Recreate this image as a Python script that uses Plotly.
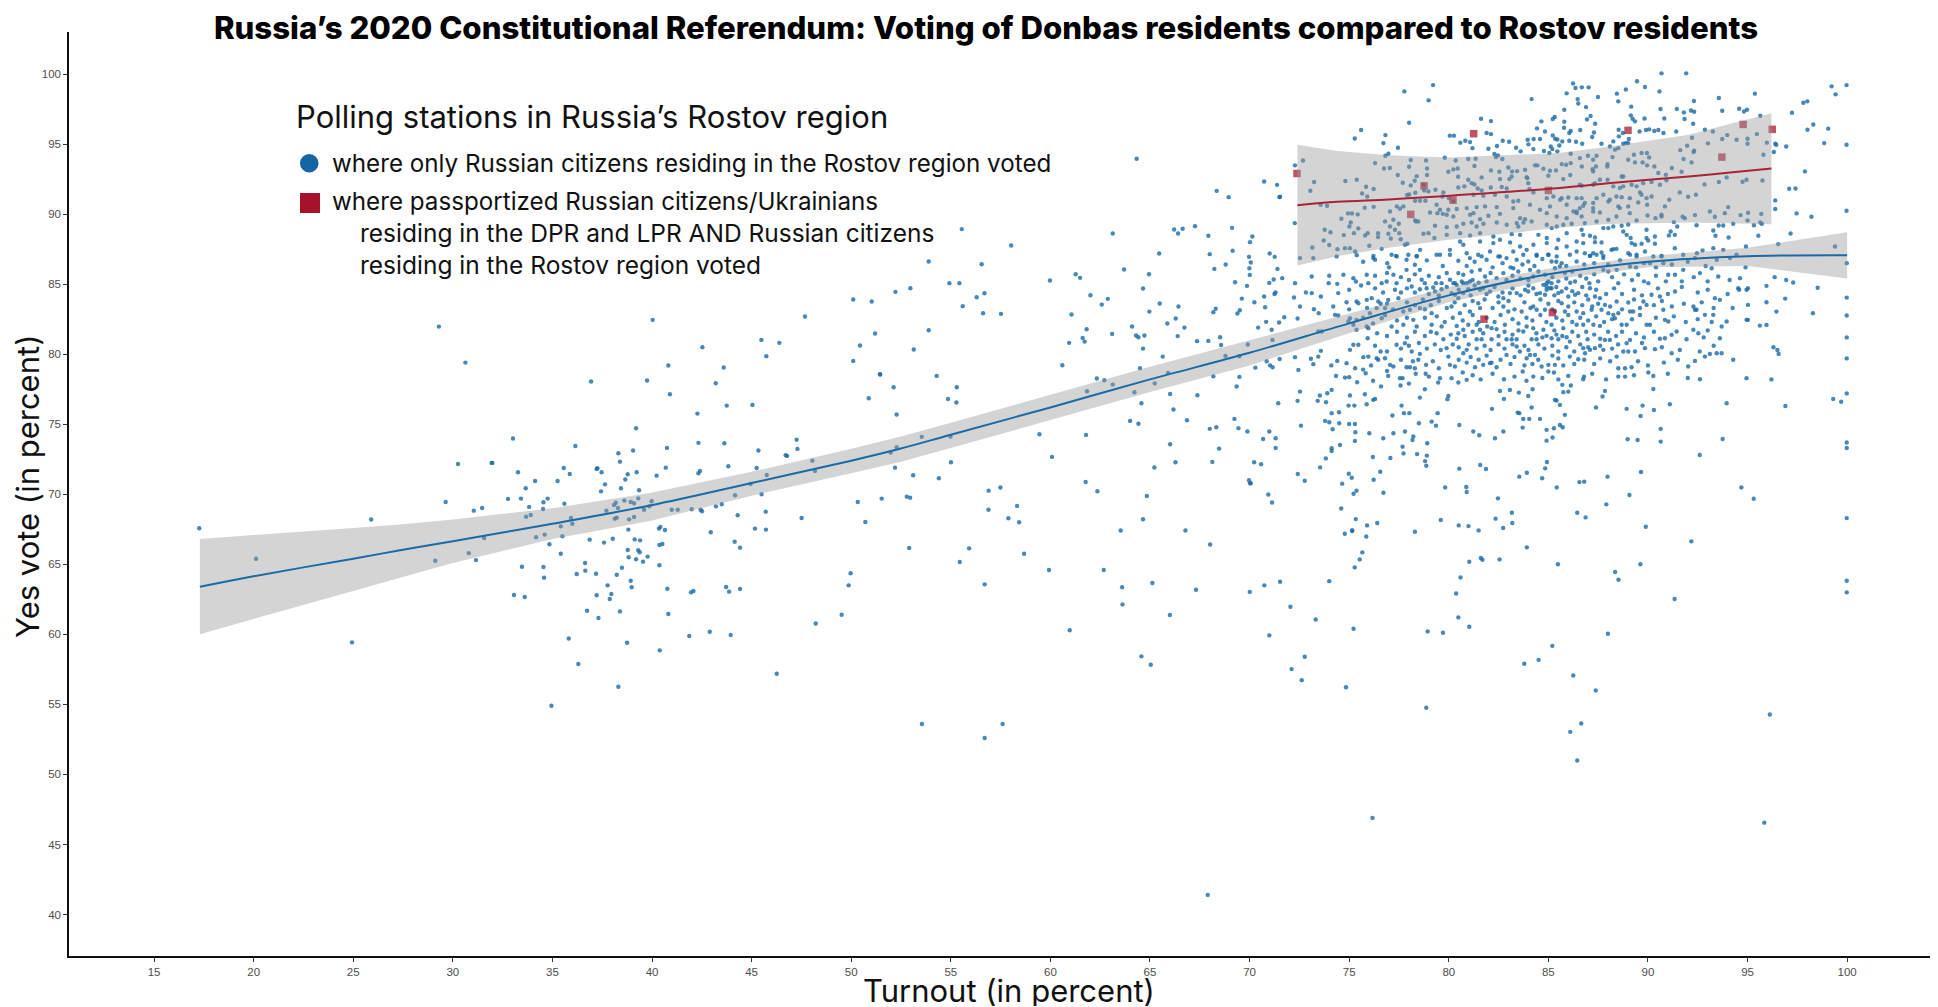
import plotly.graph_objects as go

W, H = 1938, 1007
L, R, T, B = 69, 1930, 32, 956

left_stations = [(17.27,67.57),(20.12,65.4),(25.9,68.2),(24.94,59.43),(29.3,81.97),(30.63,79.4),(30.26,72.16),(29.64,69.45),(31.05,68.83),(29.12,65.26),(30.8,65.8),(31.16,65.3),
(40.03,82.45),(47.68,82.69),(50.1,83.9),(51.03,83.76),(51.2,81.48),(50.44,80.62),(50.1,79.52),(51.45,78.55),(52.13,77.64),(50.88,76.86),(52.28,75.69),(42.53,80.5),(40.82,79.19),(43.6,79.05),(45.49,81.02),(46.39,80.81),(45.74,79.86),(36.94,78.05),(39.75,78.12),(43.2,77.93),(40.9,77.14),(43.75,76.33),(45.04,76.38),(42.28,75.76),(39.2,74.71),(33.02,73.98),(47.26,73.9),(47.3,73.24),(36.15,73.45),(42.33,73.67),(43.63,73.64),(40.75,73.31),(39.05,73.12),(45.34,73.12),(38.31,72.93),(38.39,72.33),(46.71,72.79),(46.78,72.74),(31.95,72.24),(31.98,72.24),(40.69,71.9),(43.83,72.0),(37.26,71.86),(37.22,71.81),(35.57,71.88),(45.25,71.88),(33.27,71.57),(37.47,71.57),(39.23,71.57),(35.87,71.45),(38.78,71.43),(42.41,71.67),(42.33,71.5),(40.23,71.33),(38.66,71.05),(34.13,70.95),(35.26,70.95),(37.64,70.71),(33.66,70.43),(38.44,70.43),(39.35,70.29),(37.44,70.21),(32.77,69.67),(33.42,69.69),(34.76,69.69),(34.55,69.43),(35.6,69.33),(39.31,69.71),(38.61,69.55),(38.93,69.45),(39.1,69.36),(39.98,69.5),(38.18,69.4),(38.09,69.24),(39.87,69.14),(38.29,69.02),(33.83,69.1),(31.47,69.02),(34.53,68.95),(37.71,68.83),(39.6,68.9),(40.99,68.9),(41.29,68.9),(41.99,68.93),(42.44,68.9),(42.51,68.79),(43.21,69.14),(43.5,69.29),(33.68,68.4),(33.91,68.52),(35.93,68.31),(38.13,68.26),(38.23,68.33),(38.85,68.21),(39.1,68.38),(44.3,68.5),(45.71,68.76),(36.0,67.9),(35.42,67.71),(47.51,68.31),(38.81,67.48),(40.35,67.55),(40.42,67.67),(40.65,67.45),(45.17,67.55),(45.72,67.48),(42.95,67.29),(34.18,66.93),(34.61,67.12),(35.5,67.0),(31.57,66.88),(36.87,66.76),(38.03,66.83),(37.59,66.55),(39.13,66.78),(39.4,66.71),(44.15,66.62),(40.37,66.38),(40.52,66.45),(34.85,66.43),(44.42,66.19),(38.78,66.02),(39.31,66.0),(39.38,65.86),(35.42,65.76),(38.83,65.5),(39.78,65.55),(39.2,65.36),(39.55,65.19),(40.37,64.93),(38.49,64.76),(33.47,64.83),(34.55,64.81),(34.58,64.05),(36.64,65.09),(36.65,64.55),(36.22,64.31),(37.19,64.33),(38.23,64.26),(38.93,63.83),(38.98,63.36),(37.77,63.5),(37.22,62.79),(37.96,62.88),(37.88,62.52),(33.07,62.81),(33.61,62.67),(40.77,63.26),(41.96,63.0),(42.08,63.1),(43.72,63.38),(43.87,63.05),(44.42,63.24),(36.74,61.69),(37.31,61.17),(38.39,61.64),(40.82,61.45),(48.22,60.78),(49.52,61.4),(49.97,64.36),(49.87,63.5),(50.33,69.45),(50.71,68.02),(51.53,69.69),(52.2,71.9),(51.98,72.98),(52.28,73.36),(48.05,72.4),(48.18,71.67),(45.76,71.38),(44.95,70.74),(44.17,69.93),(45.5,70.0),(35.82,59.71),(38.75,59.4),(40.39,58.86),(41.87,59.88),(42.9,60.19),(43.95,59.95),(36.3,57.88),(38.31,56.26),(46.26,57.19),(34.95,54.9)]

middle_stations = [(64.33,93.95),(70.73,92.33),(71.38,92.09),(68.35,91.66),(68.95,91.21),(71.5,91.21),(55.55,88.93),(58.03,87.76),(63.13,88.62),(66.21,88.9),(66.41,88.62),(66.64,88.95),(67.26,89.14),(69.12,89.02),(67.93,88.45),(70.14,88.4),(70.02,88.0),(53.89,86.62),(56.55,86.42),(65.46,87.19),(68.0,87.14),(69.15,87.38),(71.01,87.19),(71.26,86.95),(69.97,86.95),(70.06,86.55),(69.99,86.14),(70.01,85.66),(68.8,86.4),(68.23,86.09),(71.4,86.09),(63.7,86.05),(64.95,85.71),(61.27,85.71),(61.49,85.45),(59.98,85.26),(54.93,85.07),(55.43,85.07),(52.97,84.71),(52.22,84.45),(56.3,84.07),(56.69,84.35),(55.6,83.43),(56.62,82.92),(57.52,82.88),(69.27,85.14),(70.99,85.09),(71.21,85.33),(64.65,84.69),(69.87,84.88),(71.3,84.4),(71.25,84.3),(62.01,84.21),(62.88,83.95),(62.58,83.54),(69.61,83.97),(70.73,84.12),(65.49,83.62),(66.43,83.4),(70.24,83.71),(70.78,83.35),(68.3,83.24),(68.18,83.0),(69.51,83.14),(69.39,82.9),(64.97,83.04),(61.06,82.83),(66.29,82.55),(65.87,82.19),(70.83,82.31),(71.48,82.26),(64.1,81.98),(63.1,81.45),(66.73,81.9),(70.43,81.9),(71.11,81.74),(61.82,81.78),(53.89,81.71),(61.62,81.16),(61.72,80.9),(60.94,80.81),(64.3,81.33),(64.42,81.21),(64.72,81.33),(66.39,81.29),(67.36,80.93),(67.93,80.95),(68.52,81.21),(68.57,80.66),(64.65,80.4),(69.91,80.69),(71.15,81.02),(53.14,80.33),(65.64,79.83),(68.79,79.88),(69.49,79.85),(60.6,79.21),(64.5,79.0),(65.91,78.66),(70.86,79.5),(71.03,79.2),(71.16,79.07),(70.29,79.04),(71.51,79.66),(68.18,78.42),(69.49,78.38),(62.33,78.26),(62.71,78.14),(63.13,77.83),(65.24,77.92),(61.84,77.35),(64.22,77.28),(66.01,77.16),(67.38,77.07),(69.35,77.69),(54.29,78.45),(51.45,78.57),(55.3,77.64),(54.86,76.8),
(64.57,76.5),(66.18,76.05),(66.86,75.29),(69.24,75.38),(69.44,74.72),(69.89,74.48),(68.0,74.67),(68.33,74.79),(64.0,75.24),(64.42,75.03),(70.99,74.48),(71.31,74.0),(71.31,73.31),(70.68,73.95),(55.28,76.55),(53.54,74.1),(54.98,74.12),(59.45,74.29),(61.79,74.24),(66.01,73.57),(68.47,73.26),(60.08,72.67),(55.01,72.29),(66.28,72.29),(68.13,72.31),(70.23,72.29),(70.58,72.14),(65.22,71.91),(53.11,71.36),(54.4,71.14),(69.97,71.0),(70.06,70.79),(61.77,70.88),(62.36,70.22),(56.9,70.26),(57.49,70.48),(64.84,69.88),(70.94,69.98),(71.13,69.41),(52.79,69.83),(52.96,69.76),(56.89,68.9),(57.89,68.29),(58.33,69.17),(58.43,68.0),(64.65,68.22),(63.53,67.41),(66.78,67.41),(68.02,66.41),(52.91,66.17),(55.92,66.14),(58.68,65.76),(55.45,65.17),(59.93,64.6),(62.68,64.6),(56.7,63.57),(63.6,63.36),(65.12,63.67),(67.31,63.19),(70.01,63.03),(70.74,63.5),(71.53,63.76),(63.62,62.14),(66.0,61.38),(60.97,60.29),(70.99,59.93),(64.57,58.43),(65.04,57.83),(53.55,53.6),(56.7,52.6),(57.6,53.6),(67.9,41.4)]

low_stations = [(73.83,72.56),(74.12,73.09),(73.54,71.92),(72.42,71.45),(72.77,70.97),(70.02,70.78),(76.19,72.66),(77.07,72.59),(77.73,72.92),(78.41,72.87),(78.9,72.76),(78.81,72.37),(78.87,72.04),(76.56,71.61),(74.98,71.47),(75.13,71.18),(74.65,70.76),(76.23,71.04),(75.37,70.26),(75.22,70.04),(76.72,70.11),(74.6,68.99),(75.33,68.23),(75.9,67.78),(76.41,67.95),(74.78,67.18),(75.15,67.37),(75.15,67.44),(75.86,66.99),(78.3,67.33),(80.53,71.83),(79.82,70.49),(80.88,70.52),(80.9,70.16),(81.58,72.09),(81.87,71.8),(83.54,71.26),(83.92,71.54),(84.69,71.14),(84.84,71.85),(84.93,72.3),(85.42,70.49),(82.47,69.71),(86.56,70.87),(86.8,70.9),(87.97,71.26),(89.65,71.59),(89.07,69.95),(87.91,69.28),(86.45,68.68),(86.87,68.35),(83.17,68.68),(82.35,68.26),(83.19,67.95),(82.73,67.59),(79.6,68.16),(80.5,67.78),(80.99,67.73),(81.5,67.42),(89.89,67.68),(92.18,66.64),(92.6,72.8),(94.69,70.49),(95.31,69.68),(99.98,68.3),(99.98,63.83),(99.98,63.0),(91.34,62.52),(83.92,66.21),(85.48,65.0),(89.62,65.0),(88.35,64.45),(88.52,63.9),(81.03,65.18),(81.61,65.45),(81.69,65.33),(82.55,65.35),(75.66,65.85),(75.53,65.35),(75.28,64.78),(80.59,64.06),(80.37,62.92),(80.48,61.21),(81.03,60.54),(74.0,63.8),(72.05,61.97),(73.32,61.06),(75.22,60.4),(78.94,60.21),(79.71,60.11),(87.99,60.04),(85.2,59.18),(83.79,57.9),(84.51,58.18),(86.25,57.06),(87.38,56.0),(72.77,58.4),(72.11,57.52),(72.62,56.73),(74.84,56.23),(78.87,54.76),(96.12,54.28),(86.65,53.64),(86.1,53.04),(86.45,51.0),(76.17,46.9),(95.84,46.56)]

upper_left_stations = [(79.21,99.21),(77.77,98.76),(78.99,98.12),(78.01,96.52),(75.6,96.0),(75.28,95.4),(76.82,95.64),(76.72,95.07),(77.45,94.74),(76.97,94.31),(76.82,94.17),(80.05,95.6),(80.26,95.6),(81.62,96.81),(82.12,96.64),(81.9,95.79),(82.12,95.71),(80.58,95.1),(80.83,95.24),(81.07,95.14),(81.19,94.71),(81.99,94.67),(82.42,94.86),(82.29,94.29),(82.47,94.19),(82.71,95.24),(83.03,95.17),(83.38,94.74),(83.61,94.48),(84.16,98.21),(85.8,97.45),(86.24,99.33),(86.36,99.0),(85.92,98.62),(86.47,98.21),(86.5,97.9),(84.65,96.62),(85.22,96.79),(85.32,96.93),(85.8,96.6),(85.79,96.17),(84.43,96.12),(84.83,95.9),(86.12,95.93),(86.05,95.79),(83.96,95.31),(84.26,95.36),(84.58,95.36),(85.22,95.62),(85.34,95.38),(85.45,95.33),(85.7,95.19),(86.05,95.24),(86.39,95.17),(84.0,94.98),(84.25,94.64),(84.78,94.5),(85.12,94.83),(85.2,94.64),(85.05,94.36),(85.55,94.9),(85.45,94.48),(86.12,94.31),(79.8,94.02),(78.86,93.83),(78.09,93.86),(80.35,93.83),(80.98,93.93),(81.35,93.95),(82.37,94.07),(82.69,93.93),(76.3,93.64),(72.68,93.83),(72.28,93.48),(76.75,93.26),(77.04,93.29),(78.01,93.38),(78.91,93.26),(79.98,93.02),(80.23,93.19),(80.45,93.26),(81.29,93.43),(82.12,93.12),(77.44,92.79),(78.39,92.71),(78.91,92.79),(80.47,92.67),(81.65,92.62),(82.54,93.02),(82.57,92.5),(82.99,93.33),(83.18,93.05),(83.43,93.07),(83.83,93.17),(83.16,92.69),(83.04,92.5),(83.95,92.57),(84.33,93.48),(84.45,93.48),(84.75,93.24),(73.24,92.29),(74.81,92.36),(75.38,92.45),(77.69,92.24),(78.09,92.05),(78.29,92.38),(78.74,92.1),(80.98,92.45),(81.29,92.12),(81.15,92.21),(75.85,91.95),(76.23,91.79),(73.05,91.67),(75.65,91.48),(75.91,91.26),(78.32,91.52),(77.91,91.36),(78.02,91.4),(71.53,91.24),(80.48,91.9),(80.78,91.98),(81.45,91.83),(81.65,91.69),(82.11,91.9),(82.66,91.93),(82.91,91.83),(83.99,92.21),(83.91,92.64),(84.05,91.79),(84.25,91.55),(85.08,93.1),(85.38,93.12),(85.0,92.74),(85.75,92.5),(86.1,92.79),(85.67,93.57),(85.89,93.52),(86.12,93.64),(79.73,91.55),(79.33,91.74),(78.98,91.62),(78.76,91.69),(84.92,91.14),(85.25,91.26),(85.67,91.14),(86.0,91.19),(86.42,91.14),(82.91,91.26),(82.32,91.38),(81.74,91.31),(81.24,91.38),(73.57,90.67),(73.89,90.6),(75.78,90.45),(76.23,90.52),(77.39,90.55),(77.55,90.38),(78.31,90.95),(78.56,90.95),(78.83,90.95),(79.68,91.26),(80.01,91.14),(80.23,90.9),(77.05,90.19),(77.72,90.55),(79.39,90.67),(79.56,90.31),(79.98,90.31),(80.4,90.36),(80.9,90.43),(81.4,90.5),(81.82,90.55),(82.41,90.5),(83.24,90.9),(83.49,90.95),(83.24,90.43),(84.08,90.67),(84.58,90.31),(85.08,90.55),(85.59,91.02),(85.92,90.67),(86.26,90.19),(74.94,90.05),(75.14,90.05),(75.43,89.98),(74.61,89.67),(75.08,89.4),(75.01,89.12),(76.8,89.48),(77.22,89.6),(77.49,89.31),(78.31,89.55),(78.47,89.48),(79.06,90.12),(79.43,90.07),(79.9,89.95),(80.23,89.83),(79.7,90.02),(81.24,90.07),(81.07,89.95),(81.99,89.88),(81.57,89.64),(82.57,90.02),(83.58,89.71),(83.83,89.64),(84.16,89.48),(84.92,90.07),(85.42,89.83),(85.92,89.71),(86.42,90.07),(72.27,89.36),(73.77,88.88),(74.06,88.71),(74.73,88.5),(75.24,88.64),(75.46,88.98),(75.93,88.64),(75.8,88.48),(76.45,88.64),(76.45,88.36),(76.97,88.6),(77.05,89.12),(77.3,88.88),(77.52,88.64),(77.09,88.26),(77.59,88.21),(78.36,89.48),(78.73,88.6),(78.98,88.64),(79.31,89.17),(79.9,89.07),(80.4,89.12),(80.73,89.31),(81.15,89.4),(81.4,89.12),(81.74,89.31),(82.41,89.4),(82.91,89.24),(83.49,89.12),(83.41,89.36),(83.75,89.4),(84.92,89.24),(85.17,89.0),(85.42,89.12),(85.75,89.24),(86.17,89.31),(73.72,88.12),(74.0,87.79),(73.15,87.62),(73.2,86.86),(74.41,87.5),(74.79,87.57),(75.04,87.57),(75.3,87.33),(76.01,87.74),(76.63,87.52),(77.8,87.81),(77.92,87.88),(78.56,87.45),(79.28,88.29),(79.9,88.52),(80.57,88.64),(81.07,88.48),(81.57,88.64),(82.24,88.4),(83.16,88.57),(83.58,88.52),(84.5,88.52),(84.92,88.29),(85.5,88.17),(85.92,88.64),(86.42,88.05),(80.57,88.05),(80.73,87.81),(81.57,88.05),(82.24,87.93),(82.57,88.17),(83.08,87.98),(83.58,87.69),(84.25,87.81),(84.92,87.93),(85.42,87.57),(85.92,87.69),(86.42,87.33),(79.56,87.1),(80.06,87.45),(80.9,87.21),(81.65,86.98),(82.07,87.33),(82.57,86.98),(83.24,87.33),(83.91,87.45),(84.41,87.1),(85.0,87.1),(85.42,86.98),(78.39,86.98),(77.97,87.1),(77.39,86.98),(76.22,87.02),(75.38,87.07),(72.53,86.86)]

upper_right_stations = [(90.68,100.05),(91.92,100.05),(89.45,99.48),(89.85,99.07),(90.58,98.76),(86.68,99.05),(87.02,99.05),(87.49,98.36),(88.44,98.6),(88.89,98.9),(88.51,98.05),(89.16,97.67),(89.14,97.05),(89.23,96.81),(89.35,96.62),(86.89,97.64),(87.12,97.0),(86.94,96.76),(87.35,96.45),(86.6,96.0),(87.29,95.83),(87.2,95.5),(88.53,96.02),(88.74,95.79),(88.54,95.55),(89.04,95.36),(88.89,95.07),(88.76,95.02),(89.01,95.07),(88.26,95.19),(87.67,95.02),(86.7,95.02),(90.63,97.5),(91.45,97.5),(91.8,97.26),(92.16,97.4),(92.32,97.31),(92.31,98.07),(89.83,96.83),(90.82,96.83),(91.84,96.79),(92.27,96.45),(89.58,95.9),(89.9,96.0),(90.06,96.05),(90.32,95.93),(90.52,96.0),(90.78,95.79),(91.42,95.9),(93.56,98.29),(95.37,98.6),(93.73,97.38),(94.58,97.52),(94.82,97.33),(94.97,97.45),(95.64,97.02),(92.86,96.02),(93.26,95.9),(93.98,95.64),(93.73,95.36),(93.01,95.05),(92.21,95.45),(91.97,94.88),(91.62,94.57),(92.32,94.52),(92.29,94.43),(91.79,93.93),(92.19,93.69),(94.45,95.31),(95.0,95.38),(95.0,95.02),(95.47,95.71),(95.97,95.1),(95.8,94.24),(96.39,95.02),(96.44,94.95),(96.32,94.43),(96.94,94.83),(97.23,97.24),(97.8,97.95),(98.0,98.05),(98.3,96.4),(98.01,96.02),(99.05,96.1),(99.22,99.12),(99.42,98.55),(99.97,99.21),(98.85,95.07),(99.97,94.95),(97.88,93.05),(97.09,91.81),(97.41,91.83),(96.39,90.98),(96.39,90.36),(97.46,90.05),(98.21,89.81),(99.97,90.24),(97.16,88.62),(99.39,87.69),(96.54,87.86),(94.92,87.69),(93.78,87.45),(93.28,87.57),(92.74,87.4),(92.46,87.21),(93.56,92.29),(92.84,92.12),(91.6,91.55),(92.02,91.24),(92.41,91.38),(91.07,91.02),(94.75,92.31),(94.95,92.45),(95.75,92.4),(93.95,92.62),(89.95,94.36),(89.68,94.36),(89.3,94.24),(89.01,93.88),(89.35,93.69),(89.73,93.69),(90.06,94.05),(89.96,93.48),(90.32,93.4),(91.2,93.29),(91.69,93.02),(90.52,92.93),(90.9,92.81),(88.76,92.69),(88.68,92.69),(87.97,93.57),(87.96,93.4),(88.22,94.07),(88.34,94.6),(88.51,94.71),(88.09,94.83),(87.42,94.17),(86.99,94.17),(87.25,93.88),(87.39,93.4),(87.22,93.21),(87.25,93.05),(86.68,93.4),(86.58,94.0),(87.59,92.45),(87.97,92.45),(88.26,91.98),(87.25,92.1),(87.34,92.21),(86.58,92.1),(86.67,92.02),(88.59,91.86),(88.76,91.98),(89.18,92.1),(89.43,91.98),(89.76,92.21),(90.18,92.29),(90.6,92.1),(90.93,92.41),(87.76,91.38),(88.09,91.02),(88.42,91.26),(88.68,91.21),(89.09,91.14),(89.6,91.55),(89.68,91.38),(89.93,91.14),(90.18,91.26),(86.67,91.14),(86.83,90.79),(87.25,90.79),(87.42,91.14),(88.01,90.9),(88.51,90.55),(88.59,90.43),(89.01,90.55),(89.51,90.83),(89.96,90.67),(86.58,90.43),(86.42,90.19),(87.25,90.43),(86.75,90.6),(90.85,90.55),(90.68,89.95),(89.98,89.9),(90.38,89.71),(90.68,89.83),(91.74,89.81),(91.85,89.71),(92.36,89.93),(93.11,90.19),(93.36,89.81),(93.86,90.07),(94.03,90.5),(94.65,89.93),(95.03,90.1),(95.69,90.02),(87.25,90.19),(87.59,90.12),(88.01,89.6),(88.42,89.83),(89.09,90.07),(89.43,89.55),(86.67,89.83),(86.83,89.36),(87.42,89.48),(87.76,89.0),(88.26,89.12),(88.68,89.17),(89.01,89.26),(89.93,88.88),(90.35,88.4),(91.3,89.43),(91.47,89.12),(92.44,89.21),(93.55,89.19),(93.78,89.19),(94.28,89.31),(95.0,89.55),(95.32,89.21),(95.64,89.4),(95.72,89.31),(93.28,88.83),(93.39,88.45),(94.05,88.33),(95.54,88.45),(86.75,88.52),(87.09,88.45),(87.34,88.33),(87.67,87.98),(87.34,88.0),(86.67,88.88),(88.01,89.0),(88.76,88.76),(88.93,88.52),(89.13,88.29),(89.18,87.93),(89.35,87.81),(89.68,87.88),(89.93,88.29),(90.01,88.12),(90.35,87.88),(91.05,88.48),(91.35,88.52),(91.14,88.76),(88.26,87.5),(88.17,87.45),(88.42,87.52),(87.67,87.26),(87.25,87.21),(87.09,87.02),(87.76,87.02),(89.01,87.21),(89.43,87.1),(89.85,87.33),(90.27,86.98),(91.35,87.57),(90.68,86.98),(86.75,87.93),(86.83,87.21)]

dense_upper_stations = [(74.37,86.98),(76.21,86.86),(76.3,86.74),(76.91,86.5),(77.13,87.1),(77.35,87.02),(78.39,87.02),(77.88,86.74),(79.39,87.1),(80.06,87.1),(80.48,86.67),(81.06,86.86),(81.48,87.1),(81.9,86.74),(82.49,86.98),(82.9,86.86),(83.41,86.74),(83.74,87.1),(83.99,86.62),(84.41,87.02),(85.0,87.1),(85.16,86.62),(85.67,86.5),(86.08,87.1),(86.42,86.62),(87.09,87.02),(87.42,87.1),(87.76,86.86),(89.1,87.1),(89.43,86.98),(90.69,87.02),(91.77,87.1),(92.36,86.86),(93.45,86.74),(94.12,86.86),(94.45,87.1),
(71.64,85.43),(72.28,85.07),(73.12,85.55),(73.97,85.07),(74.4,85.02),(74.71,85.67),(75.21,85.43),(75.34,85.19),(75.88,85.67),(75.96,85.07),(76.63,85.07),(76.88,85.19),(77.22,85.67),(77.38,85.07),(77.88,86.02),(78.3,86.38),(78.55,86.02),(78.64,85.31),(78.8,85.07),(79.36,85.07),(79.64,85.07),(80.06,85.31),(80.48,85.79),(80.73,85.67),(80.31,85.07),(80.73,85.07),(81.15,85.9),(81.57,86.02),(81.82,85.55),(82.4,85.43),(82.74,85.79),(83.24,86.14),(83.49,85.9),(84.08,86.02),(84.24,85.55),(84.83,85.67),(84.91,85.07),(85.0,85.19),(85.33,86.14),(85.58,86.26),(85.83,85.79),(86.34,85.19),(87.06,85.07),(87.76,86.02),(88.01,85.9),(88.51,85.07),(89.51,85.67),(90.1,86.5),(90.77,86.5),(91.02,85.67),(91.36,85.67),(91.77,86.02),(92.61,85.79),(93.2,86.14),(93.53,85.55),(94.62,85.43),(90.02,85.07),(89.1,86.26),(88.43,86.02),(80.23,85.07),(80.4,84.95),(80.65,85.19),(80.9,85.07),(81.06,85.19),(84.75,84.95),(84.91,84.83),(85.08,84.71),(85.16,85.07),(84.91,84.6),
(72.23,84.05),(72.53,83.4),(72.83,84.4),(73.12,84.36),(73.58,84.12),(73.23,83.21),(73.47,82.93),(74.45,84.36),(74.87,83.71),(75.37,83.76),(75.46,83.64),(75.88,83.88),(76.13,84.0),(76.46,83.76),(76.58,83.6),(76.96,83.88),(77.3,84.6),(77.47,84.0),(78.14,84.83),(78.55,84.64),(78.89,84.71),(79.22,84.76),(79.31,84.48),(79.64,84.64),(80.14,84.36),(80.31,84.24),(80.48,84.0),(80.73,84.36),(80.98,84.64),(81.57,84.6),(81.73,84.71),(82.07,84.48),(82.49,84.12),(82.74,84.0),(83.07,84.36),(83.41,84.36),(83.83,84.6),(83.99,84.48),(84.24,84.71),(84.58,84.36),(84.83,84.24),(85.16,84.71),(85.5,84.36),(85.67,84.48),(86.0,84.12),(86.34,84.24),(86.5,84.36),(87.09,84.71),(87.34,84.12),(87.59,84.0),(87.84,83.52),(88.43,83.76),(89.01,83.69),(89.77,83.76),(89.93,83.52),(90.18,84.24),(90.6,84.12),(91.36,84.48),(92.28,83.4),(92.44,83.17),(93.36,84.0),(93.61,83.88),(94.53,84.71),(94.95,84.6),(76.38,83.29),(76.04,82.93),(76.8,83.29),(77.72,83.05),(78.05,83.17),(78.55,83.29),(78.8,83.21),(79.14,82.93),(80.14,83.4),(80.56,82.93),(81.06,83.05),(81.48,83.64),(81.57,83.29),(82.74,83.4),(82.99,83.05),(83.66,83.05),(84.24,83.4),(84.41,83.17),(84.83,83.17),(85.33,83.05),(85.67,83.64),(85.83,83.05),(86.42,83.05),(86.75,82.93),(87.17,83.17),(87.67,83.17),(88.01,82.93),(88.26,82.81),(88.51,82.93),(89.1,83.05),(89.26,83.05),(90.77,83.17),(92.86,82.81),(93.28,82.81)]

dense_lower_stations = [(71.74,82.64),(72.41,82.55),(73.62,81.62),(73.45,81.62),(74.29,82.81),(74.45,82.76),(75.04,82.57),(74.96,82.33),(75.37,82.45),(75.21,82.1),(75.37,81.74),(75.88,81.98),(75.96,81.86),(75.93,81.14),(75.21,80.67),(75.46,80.67),(76.63,82.57),(77.13,81.98),(77.72,82.1),(78.22,82.45),(78.39,81.98),(79.14,82.1),(79.39,81.5),(79.64,81.98),(79.73,81.07),(80.4,82.02),(80.73,81.74),(80.98,82.1),(80.48,81.5),(81.4,82.1),(81.57,81.74),(81.73,81.5),(81.93,81.98),(82.15,81.86),(81.4,81.07),(81.65,81.07),(82.15,81.07),(82.4,81.79),(82.82,82.1),(82.9,81.07),(83.16,81.07),(83.41,81.07),(83.74,81.62),(83.91,81.98),(84.24,81.86),(84.16,81.07),(84.41,81.07),(84.75,81.74),(84.91,81.31),(85.16,82.1),(85.16,81.14),(85.5,81.07),(85.75,81.86),(85.92,81.21),(86.08,80.9),(86.42,82.1),(86.75,82.1),(86.97,81.07),(87.26,82.1),(87.59,82.02),(87.84,81.02),(88.09,81.02),(88.34,82.57),(88.68,82.1),(88.93,82.1),(89.1,81.02),(88.93,80.79),(89.93,82.1),(90.1,82.1),(90.85,82.45),(91.02,82.33),(90.85,81.14),(91.19,81.38),(91.44,81.62),(91.94,81.07),(92.36,83.17),(92.28,81.74),(92.53,81.5),(93.7,81.98),(93.95,82.33),(94.95,82.45),(93.61,81.14),
(72.28,79.79),(72.45,78.88),(73.08,79.67),(73.2,79.29),(73.45,79.83),(73.58,80.24),(74.4,79.52),(74.87,79.36),(75.04,80.31),(75.71,79.79),(75.96,79.83),(76.38,79.71),(76.58,80.19),(76.8,79.71),(76.46,79.6),(77.05,79.24),(77.22,79.12),(77.38,80.67),(77.8,80.79),(78.14,80.19),(78.55,80.02),(78.47,79.6),(77.88,79.07),(78.05,79.07),(78.3,79.0),(78.86,79.24),(79.89,80.43),(79.98,79.83),(80.06,79.24),(80.31,79.12),(80.73,80.07),(80.9,80.31),(81.32,79.07),(81.73,79.24),(82.07,79.36),(82.15,79.4),(82.4,79.07),(82.9,79.95),(83.57,80.19),(83.91,79.71),(84.08,79.95),(84.33,79.95),(84.49,79.6),(84.66,79.12),(85.0,79.24),(85.33,79.24),(85.75,79.19),(86.08,79.83),(86.5,79.64),(86.84,80.07),(87.09,80.31),(87.34,80.43),(87.76,80.31),(88.43,79.83),(88.51,79.0),(88.85,79.0),(89.18,79.07),(88.76,80.19),(89.01,80.19),(89.35,80.19),(89.85,80.43),(90.35,80.36),(91.19,80.07),(92.02,79.12),(92.36,79.52),(92.86,79.83),(93.11,80.02),(93.45,80.07),(93.7,80.07),(94.28,79.6),(86.75,80.43),(83.41,80.55),
(74.34,78.45),(74.79,78.33),(75.0,78.36),(75.83,78.64),(76.96,78.45),(77.55,78.29),(77.68,78.29),(78.34,78.6),(78.84,78.6),(77.58,77.76),(79.47,77.98),(79.56,78.29),(80.14,78.29),(80.9,78.17),(80.48,77.98),(82.77,78.21),(83.71,78.76),(84.24,78.4),(85.0,78.76),(85.28,78.69),(86.79,78.4),(86.75,78.21),(88.51,78.4),(88.85,78.4),(90.02,78.69),(90.27,78.45),(92.61,78.21),(94.95,78.29),(86.0,78.45),(85.7,77.81),(86.13,77.76),(85.75,77.29),(86.0,77.33),(85.41,76.69),(85.33,76.74),(85.58,76.38),(90.27,77.52),(87.84,77.38),(87.72,76.98),(87.39,76.19),(88.93,76.1),(89.73,76.33),(90.3,76.02),(89.63,75.59),(91.1,76.43),(93.95,76.5),(82.57,77.38),(83.07,77.45),(83.52,77.26),(84.21,77.5),(83.99,77.02),(82.77,76.81),(84.16,76.19),(82.17,76.1),(83.46,75.83),(83.54,75.79),(83.74,75.38),(84.04,75.38),(84.58,75.38),(83.71,74.76),(84.91,74.6),(85.28,74.71),(85.58,74.95),(85.72,74.79),(85.21,74.05),(84.91,73.83),(85.83,75.67),(90.64,74.67),(88.98,73.93),(89.48,73.88),(90.64,73.76),(93.75,73.95),(79.98,77.02),(79.93,76.79),(78.55,76.9),(78.8,77.5),(77.63,76.33),(77.17,75.62),(77.75,75.79),(78.02,75.79),(79.44,75.79),(78.5,75.07),(79.14,75.19),(79.36,74.9),(80.53,74.95),(81.23,74.48),(81.53,74.21),(82.74,74.48),(82.32,74.0),(77.22,74.36),(77.8,74.48),(78.22,74.12),(78.18,73.88),(76.71,74.0),(76.01,74.36),(75.31,74.43),(75.29,73.81),(74.54,73.52),(74.12,73.29),(71.44,76.5),(72.41,76.67),(72.53,77.33),(73.42,76.67),(73.53,77.05),(73.84,76.57),(73.9,77.21),(74.12,77.45),(75.04,77.05),(75.79,77.14),(76.21,76.74),(76.3,76.81),(74.97,76.33),(75.26,76.33),(75.88,76.43),(74.12,75.79),(74.49,75.86),(73.79,75.24),(74.0,75.14),(74.5,75.07),(74.17,74.64),(75.0,75.02),(75.29,75.02),(72.58,74.9),(77.68,73.4),(78.92,73.64)]

core_stations = [(75.7,86.6),(77.0,86.2),(78.9,86.7),(79.7,86.3),(80.9,86.3),(81.3,86.6),(82.2,86.2),(82.7,86.5),(83.1,86.2),(83.7,86.4),(84.3,86.3),(84.7,86.8),(85.4,86.6),(85.9,86.3),(86.2,85.9),(86.8,86.4),(87.3,86.5),(88.0,86.4),(88.6,86.7),(89.4,86.2),(89.8,86.5),(90.4,86.2),(91.2,86.4),(92.0,86.6),(92.9,86.3),(94.9,86.2),
(74.0,85.6),(76.3,85.6),(76.9,85.8),(77.6,85.5),(78.0,85.3),(78.3,85.7),(79.0,85.6),(79.5,85.5),(79.9,85.8),(81.2,85.3),(81.5,85.1),(81.9,85.2),(82.1,85.8),(82.9,85.3),(83.2,85.6),(83.6,85.4),(84.0,85.3),(84.5,85.9),(85.2,85.5),(85.5,85.2),(85.9,85.4),(86.1,85.1),(86.6,85.6),(86.9,85.4),(87.3,85.7),(87.5,85.2),(88.2,85.5),(88.8,85.7),(89.2,85.3),(89.8,85.2),(90.4,85.6),(90.9,85.2),(91.7,85.2),(92.3,85.5),(93.0,85.2),(94.1,85.3),
(75.0,84.6),(75.6,84.9),(76.3,84.7),(76.7,84.4),(77.6,84.4),(77.9,84.7),(78.3,84.4),(79.0,84.3),(79.5,84.2),(79.9,84.8),(80.5,84.6),(81.1,84.2),(81.3,84.9),(81.9,84.3),(82.3,84.8),(82.7,84.4),(83.2,84.7),(83.6,84.2),(84.0,84.9),(84.4,84.3),(85.3,84.2),(85.4,84.8),(85.9,84.7),(86.2,84.5),(86.7,84.8),(86.9,84.2),(87.4,84.6),(87.9,84.3),(88.3,84.7),(88.7,84.3),(89.3,84.6),(89.7,84.2),(90.5,84.7),(91.0,84.3),(91.7,84.8),(92.5,84.4),(93.0,84.6),(94.0,84.3),
(74.2,83.4),(75.0,83.2),(75.9,83.3),(76.9,83.6),(77.2,83.2),(77.9,83.7),(78.3,83.5),(78.7,83.9),(79.1,83.5),(79.5,83.8),(79.9,83.3),(80.3,83.7),(80.8,83.5),(81.2,83.8),(81.8,83.9),(82.2,83.3),(82.5,83.7),(83.0,83.8),(83.3,83.2),(83.8,83.7),(84.1,83.3),(84.6,83.9),(85.0,83.6),(85.2,83.2),(85.5,83.8),(86.0,83.4),(86.3,83.7),(86.7,83.5),(87.0,83.9),(87.2,83.4),(87.5,83.6),(88.1,83.4),(88.7,83.2),(89.3,83.9),(89.6,83.3),(90.3,83.5),(90.7,83.8),(91.2,83.4),(91.8,83.6),(92.7,83.7),(93.3,83.3),
(75.7,82.6),(76.2,82.2),(76.8,82.8),(77.4,82.4),(77.9,82.6),(78.8,82.6),(79.4,82.7),(79.8,82.3),(80.2,82.6),(80.7,82.4),(81.2,82.8),(81.5,82.3),(81.9,82.6),(82.3,82.3),(82.6,82.8),(83.2,82.5),(83.5,82.2),(83.9,82.6),(84.2,82.4),(84.6,82.8),(84.9,82.3),(85.4,82.6),(85.7,82.4),(86.0,82.8),(86.2,82.3),(86.6,82.6),(87.0,82.4),(87.4,82.7),(87.8,82.3),(88.2,82.5),(89.2,82.5),(89.6,82.8),(90.4,82.6),(91.3,82.7),(91.9,82.3),(92.5,82.5),(93.2,82.3),
(76.4,81.5),(76.9,81.3),(77.4,81.6),(77.9,81.2),(78.3,81.6),(78.8,81.3),(79.1,81.6),(80.1,81.4),(80.4,81.1),(80.8,81.3),(81.2,81.6),(82.5,81.3),(82.8,81.6),(83.2,81.4),(83.5,81.7),(84.4,81.5),(84.7,81.2),(85.3,81.7),(85.4,81.4),(85.7,81.3),(86.2,81.6),(86.5,81.3),(86.9,81.6),(87.3,81.4),(87.6,81.1),(88.0,81.6),(88.4,81.3),(88.7,81.6),(89.4,81.5),(89.8,81.2),(90.3,81.6),(90.6,81.1),(92.8,81.2),(93.0,81.7),
(76.3,80.6),(76.9,80.2),(77.6,80.4),(78.0,80.6),(78.5,80.8),(78.9,80.4),(79.3,80.7),(79.6,80.3),(80.2,80.7),(80.5,80.5),(81.0,80.7),(81.4,80.4),(81.8,80.6),(82.1,80.3),(82.5,80.7),(82.8,80.4),(83.2,80.7),(83.8,80.6),(84.0,80.3),(84.5,80.7),(84.8,80.4),(85.2,80.6),(85.5,80.2),(85.9,80.5),(86.3,80.2),(86.6,80.7),(87.0,80.5),(87.6,80.6),(88.2,80.4),(88.5,80.7),(89.7,80.8),(90.7,80.5),(91.6,80.3),(92.6,80.2),(93.3,80.6),
(74.1,79.2),(75.3,79.0),(75.7,78.9),(76.1,79.2),(76.9,78.8),(77.6,79.6),(78.2,79.5),(79.2,79.5),(79.5,79.0),(80.5,79.6),(80.9,79.4),(81.1,79.8),(81.5,79.6),(81.9,79.9),(82.6,79.6),(83.1,79.3),(83.3,79.8),(83.8,79.2),(84.2,79.3),(85.5,79.7),(85.2,79.9),(86.3,79.3),(86.8,79.6),(87.3,79.3),(87.6,79.7),(88.1,79.5),(89.5,79.5),(90.0,79.2),(90.8,79.4),(91.5,79.6),(75.4,78.0),(76.2,78.1),(76.6,77.7),(78.0,77.9),(79.0,78.4),(80.7,78.7),(81.2,78.5),(81.6,78.2),(82.2,78.6),(83.3,78.4),(83.9,78.1),(84.7,78.3),(85.5,78.2),(87.2,78.6),(87.9,78.2),(89.3,78.5),(91.0,78.6),(92.0,78.3)]

right_stations = [(99.98,86.5),(99.98,84.04),(99.98,82.76),(99.98,81.2),(99.98,79.7),(99.98,77.2),(99.98,73.7),(99.98,73.3),(96.36,85.5),(96.94,85.3),(97.29,85.12),(98.52,84.74),(95.95,84.88),(95.02,84.71),(96.89,83.97),(95.95,83.71),(95.02,83.52),(98.28,82.93),(96.45,83.04),(95.62,82.04),(95.95,82.09),(96.3,80.5),(96.56,80.02),(95.02,82.45),(94.25,83.3),(94.58,84.6),(96.5,80.3),(96.2,78.2),(96.9,76.3),(99.7,76.6),(99.3,76.8)]

donbas_stations = [(72.38,92.9),(78.76,92.02),(78.09,89.98),(81.25,95.74),(80.21,91.0),(85.0,91.69),(89.0,95.98),(94.78,96.4),(96.24,96.05),(93.71,94.07),(81.77,82.5),(85.2,82.97)]

rostov_fit_x = [17.3,20,25,27.35,30,35,39.9,45,50,52.45,55,60,65,70,75,80,85,90,95,100]
rostov_fit = [63.4,64.15,65.4,66.0,66.65,67.9,69.2,70.8,72.4,73.25,74.25,76.2,78.2,80.1,82.2,84.2,85.7,86.6,87.0,87.07]
rostov_upper = [66.8,67.1,67.6,67.85,68.2,69.0,70.1,71.6,73.25,74.1,75.1,77.1,79.1,81.0,82.9,84.8,86.1,87.0,87.6,88.7]
rostov_lower = [60.0,61.1,63.1,64.05,65.1,66.8,68.1,69.9,71.5,72.3,73.3,75.3,77.3,79.2,81.5,83.7,85.3,86.2,86.3,85.4]

donbas_fit_x = [72.4,74.4,77,79.9,85.4,88,92.05,94,96.2]
donbas_fit = [90.64,90.88,91.05,91.3,91.85,92.2,92.69,92.95,93.26]
donbas_upper = [94.95,94.5,94.2,94.04,94.35,94.8,95.66,96.4,97.2]
donbas_lower = [86.33,87.0,87.6,88.16,89.0,89.3,89.4,89.35,89.28]

x_ticks = list(range(15, 101, 5))
y_ticks = list(range(40, 101, 5))

TITLE = "Russia’s 2020 Constitutional Referendum: Voting of Donbas residents compared to Rostov residents"
LEGEND_HEAD = "Polling stations in Russia’s Rostov region"
LEGEND_LINES = [
    ("where only Russian citizens residing in the Rostov region voted", 330, 163),
    ("where passportized Russian citizens/Ukrainians", 330, 201),
    ("residing in the DPR and LPR AND Russian citizens", 358, 233),
    ("residing in the Rostov region voted", 358, 265),
]

BLUE = "#1a6aa6"
RED = "#a5122a"
BAND = "rgba(153,153,153,0.42)"
FONT = "Inter"


def px(x):
    return (x - L) / (R - L)


def py(y):
    return (B - y) / (B - T)


all_blue = (left_stations + middle_stations + low_stations + upper_left_stations + upper_right_stations +
            dense_upper_stations + dense_lower_stations + core_stations + right_stations)

fig = go.Figure()
fig.add_trace(go.Scatter(x=[p[0] for p in all_blue], y=[p[1] for p in all_blue], mode="markers",
                         marker=dict(color=BLUE, size=4.4, opacity=0.8, line=dict(width=0)),
                         name="Rostov residents only", showlegend=False))
fig.add_trace(go.Scatter(x=rostov_fit_x + rostov_fit_x[::-1], y=rostov_upper + rostov_lower[::-1],
                         fill="toself", fillcolor=BAND, mode="none", showlegend=False))
fig.add_trace(go.Scatter(x=rostov_fit_x, y=rostov_fit, mode="lines",
                         line=dict(color=BLUE, width=2, shape="spline"), showlegend=False))
fig.add_trace(go.Scatter(x=[p[0] for p in donbas_stations], y=[p[1] for p in donbas_stations], mode="markers",
                         marker=dict(color=RED, size=7.5, symbol="square", opacity=0.72, line=dict(width=0)),
                         name="Donbas and Rostov residents", showlegend=False))
fig.add_trace(go.Scatter(x=donbas_fit_x + donbas_fit_x[::-1], y=donbas_upper + donbas_lower[::-1],
                         fill="toself", fillcolor=BAND, mode="none", showlegend=False))
fig.add_trace(go.Scatter(x=donbas_fit_x, y=donbas_fit, mode="lines",
                         line=dict(color="#ab2236", width=2, shape="spline"), showlegend=False))

annotations = [
    dict(text=LEGEND_HEAD, x=px(294), y=py(116.5), font=dict(size=31), xanchor="left"),
    dict(text="Turnout (in percent)", x=px(1008.5), y=py(990.5), font=dict(size=31), xanchor="center", height=31),
    dict(text="Yes vote (in percent)", x=px(27), y=py(487), font=dict(size=31), xanchor="center", textangle=-90),
]
for txt, lx, ly in LEGEND_LINES:
    size = 24.2 if lx < 340 else 24.5
    annotations.append(dict(text=txt, x=px(lx), y=py(ly), font=dict(size=size), xanchor="left"))
for a in annotations:
    a.update(xref="paper", yref="paper", yanchor="middle", showarrow=False)
    a["font"].update(family=FONT, color="#111111")

shapes = [
    dict(type="circle", xref="paper", yref="paper", x0=px(300), x1=px(318.5), y0=py(172.5), y1=py(154),
         fillcolor="#1565a3", line=dict(width=0)),
    dict(type="rect", xref="paper", yref="paper", x0=px(300), x1=px(320), y0=py(213), y1=py(193),
         fillcolor=RED, line=dict(width=0)),
]

fig.update_layout(
    width=W, height=H, autosize=False,
    margin=dict(l=L, r=W - R, t=T, b=H - B),
    paper_bgcolor="white", plot_bgcolor="white",
    showlegend=False,
    title=dict(text=TITLE, x=986 / W, xanchor="center", y=1 - 28 / H, yanchor="middle",
               font=dict(family=FONT, size=31.2, color="#000000", weight=800)),
    xaxis=dict(range=[10.73, 104.16], tickvals=x_ticks, showgrid=False, zeroline=False,
               showline=True, linecolor="#111111", linewidth=1.5, ticks="outside", ticklen=4, tickwidth=1,
               tickcolor="#333333", tickfont=dict(family="Liberation Sans", size=11.5, color="#4d4d4d")),
    yaxis=dict(range=[37.04, 103.0], tickvals=y_ticks, showgrid=False, zeroline=False,
               showline=True, linecolor="#111111", linewidth=1.5, ticks="outside", ticklen=4, tickwidth=1,
               tickcolor="#333333", tickfont=dict(family="Liberation Sans", size=11.5, color="#4d4d4d")),
    annotations=annotations,
    shapes=shapes,
)

fig.write_html("out.html", config=dict(displayModeBar=False), post_script="document.body.style.margin='0';")
